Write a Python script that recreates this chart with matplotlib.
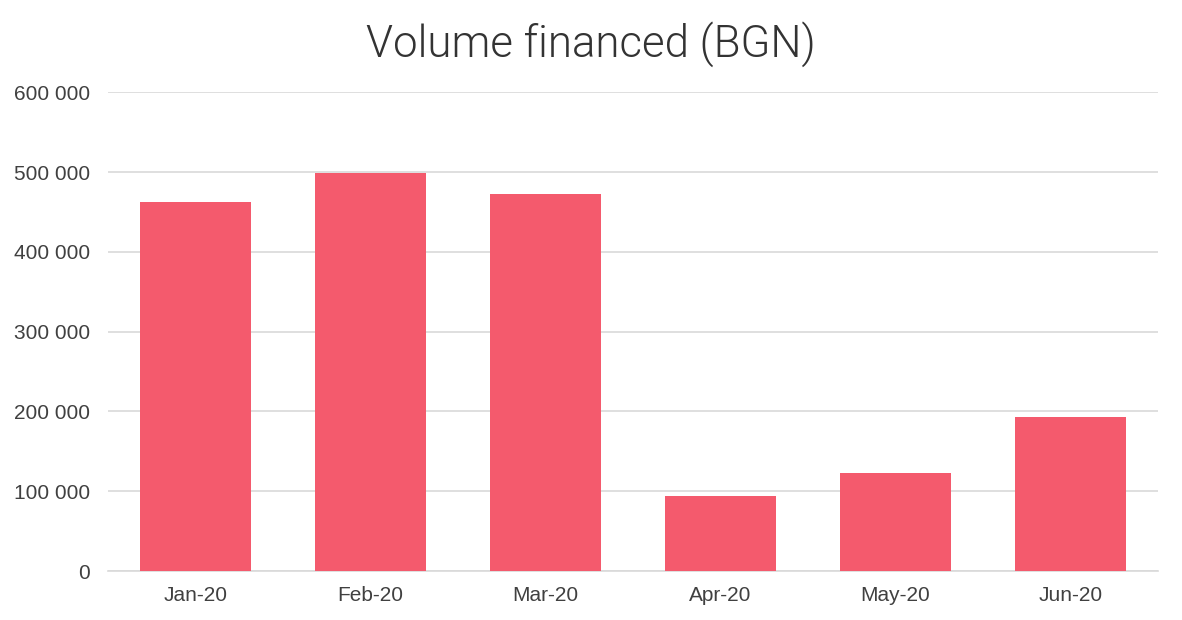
import matplotlib.pyplot as plt
from matplotlib.ticker import FuncFormatter

# Monthly volume financed (BGN)
months = ["Jan-20", "Feb-20", "Mar-20", "Apr-20", "May-20", "Jun-20"]
volume = [462000, 499000, 472000, 94000, 122500, 193000]

fig = plt.figure(figsize=(11.82, 6.2), dpi=100)
ax = fig.add_axes([0.0914, 0.079, 0.8883, 0.772])

ax.bar(months, volume, width=0.63, color="#F45A6D", zorder=3)

ax.set_xlim(-0.5, len(months) - 0.5)
ax.set_ylim(0, 600000)
ax.set_yticks(range(0, 600001, 100000))
ax.yaxis.set_major_formatter(FuncFormatter(lambda v, p: f"{int(v):,}".replace(",", " ")))

ax.grid(axis="y", color="#D9D9D9", linewidth=1.2, zorder=0)
for s in ["top", "right", "left"]:
    ax.spines[s].set_visible(False)
ax.spines["bottom"].set_color("#D9D9D9")
ax.spines["bottom"].set_linewidth(1.2)

ax.tick_params(axis="both", length=0, labelsize=15, labelcolor="#404040")
ax.tick_params(axis="y", pad=13)
ax.tick_params(axis="x", pad=11)
for lbl in ax.get_xticklabels() + ax.get_yticklabels():
    lbl.set_fontfamily("Liberation Sans")

fig.text(0.5, 0.929, "Volume financed (BGN)", ha="center", va="center",
         fontsize=31.5, color="#333333", fontfamily="Roboto", fontweight=300)

fig.savefig("out.png", dpi=100)
